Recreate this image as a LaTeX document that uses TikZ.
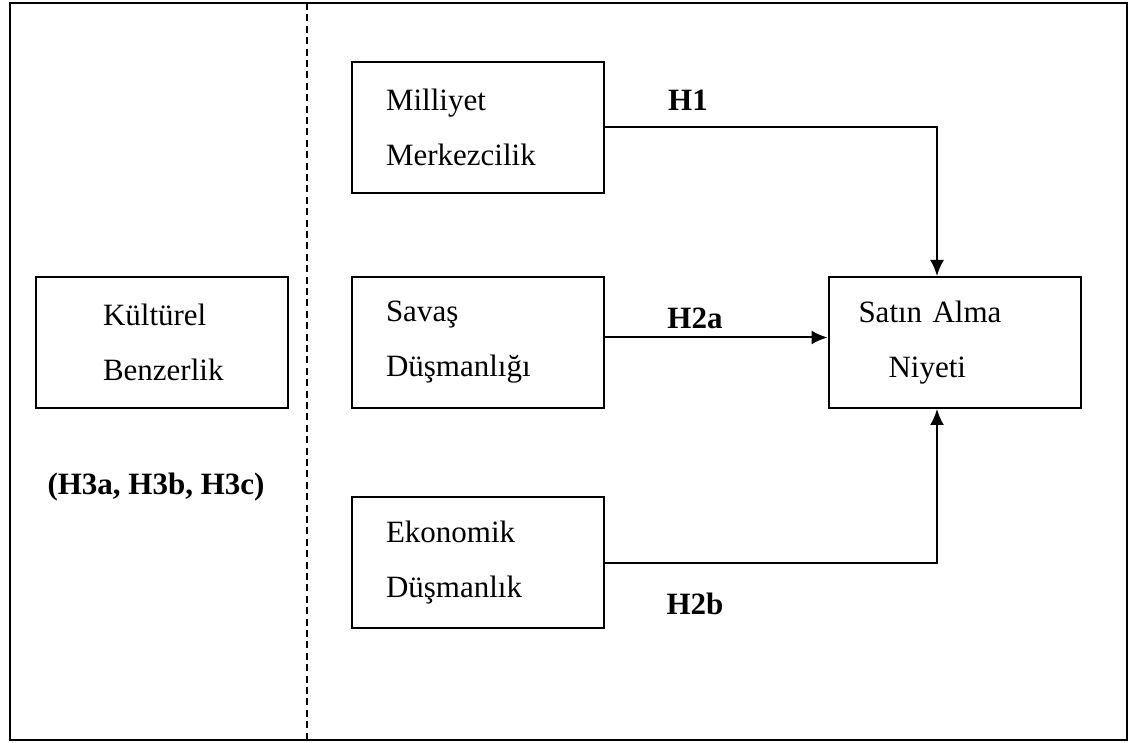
\documentclass[tikz,border=0pt]{standalone}
\usepackage{fontspec}
\setmainfont{Liberation Serif}
\usepackage{tikz}
\usetikzlibrary{positioning}
\usetikzlibrary{arrows.meta}
\tikzset{
  Kasten/.style={draw,line width=1pt,minimum width=126pt,minimum height=65.5pt,
    inner xsep=17pt,text width=92pt,align=left}, % für Kästen
  Pfeil/.style={line width=1pt,-{Latex[length=8pt,width=7pt]}},% für Pfeile
  Hyp/.style={font=\fontsize{15.5}{18}\selectfont\bfseries} % für Hypothesen
}
\begin{document}
\begin{tikzpicture}[x=0.5pt,y=-0.5pt,
font=\fontsize{15.5}{27.5}\selectfont
]
\useasboundingbox (0,0) rectangle (1136,743);

%Rahmen
\draw[line width=1.4pt] (10,3) rectangle (1127,740);
\draw[line width=1pt,dash pattern=on 3.5pt off 2.2pt] (307,3) -- (307,740);

%Kästen
\node[Kasten,inner xsep=33.5pt,text width=59pt] (kb) at (162,342.5) {Kültürel\\Benzerlik};
\node[Kasten] (mm) at (478,127.5) {Milliyet\\Merkezcilik};
\node[Kasten] (sd) at (478,342.5) {Savaş\\Düşmanlığı};
\node[Kasten] (ed) at (478,562.5) {Ekonomik\\Düşmanlık};
\node[Kasten,inner xsep=15pt,text width=96pt] (sa) at (954.5,342.5) {Satın Alma\\\hspace*{15pt}Niyeti};

%Pfeile
\draw[Pfeil] (mm.east) -| ([xshift=-8.75pt]sa.north);
\draw[Pfeil] ([yshift=2.5pt]sd.east) -- ([yshift=2.5pt]sa.west);
\draw[Pfeil] (ed.east) -| ([xshift=-8.75pt]sa.south);

%Hypothesen
\node[Hyp] (h1) at (688,100) {H1};
\node[Hyp] (h2a) at (695,318) {H2a};
\node[Hyp] (h2b) at (695,604) {H2b};
\node[Hyp] (h3) at (156,487) {(H3a, H3b, H3c)};

\end{tikzpicture}
\end{document}
